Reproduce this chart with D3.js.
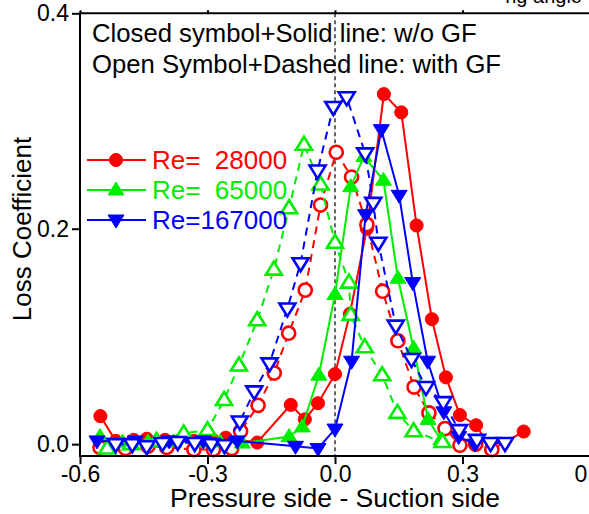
<!DOCTYPE html>
<html>
<head>
<meta charset="utf-8">
<script src="https://cdn.jsdelivr.net/npm/d3@7"></script>
<style>
  body { margin: 0; background: #fff; }
  svg { display: block; }
  text { font-family: "Liberation Sans", Arial, sans-serif; }
</style>
</head>
<body>
<div id="chart"></div>
<script>
// Re = 28000
const re28SolidX = [-0.552, -0.516, -0.474, -0.443, -0.40, -0.332, -0.29, -0.257, -0.183, -0.104, -0.071, -0.04, 0.0, 0.035, 0.075, 0.115, 0.156, 0.192, 0.228, 0.261, 0.294, 0.332, 0.368, 0.444];
const re28SolidY = [0.026, 0.003, 0.004, 0.005, 0.004, 0.003, 0.005, 0.006, 0.0015, 0.0365, 0.023, 0.038, 0.065, 0.121, 0.2, 0.325, 0.308, 0.203, 0.116, 0.062, 0.027, 0.0176, -0.005, 0.0117];
const re28DashX = [-0.553, -0.493, -0.44, -0.396, -0.332, -0.286, -0.243, -0.222, -0.181, -0.143, -0.109, -0.07, -0.034, 0.003, 0.039, 0.075, 0.112, 0.148, 0.186, 0.221, 0.259, 0.294, 0.331, 0.369];
const re28DashY = [-0.003, -0.004, -0.002, -0.003, -0.005, -0.005, -0.004, 0.012, 0.036, 0.066, 0.103, 0.143, 0.222, 0.271, 0.248, 0.204, 0.142, 0.096, 0.053, 0.029, 0.0145, -0.001, 0.0, -0.005];

// Re = 65000
const re65SolidX = [-0.553, -0.5, -0.44, -0.38, -0.32, -0.27, -0.218, -0.108, -0.077, -0.038, 0.0, 0.037, 0.068, 0.114, 0.148, 0.185, 0.219, 0.249];
const re65SolidY = [0.007, 0.002, 0.002, 0.002, 0.002, 0.002, 0.001, 0.007, 0.016, 0.064, 0.139, 0.239, 0.267, 0.245, 0.154, 0.089, 0.023, 0.004];
const re65DashX = [-0.536, -0.48, -0.42, -0.356, -0.3, -0.261, -0.226, -0.183, -0.144, -0.108, -0.073, -0.034, 0.0, 0.033, 0.037, 0.07, 0.111, 0.147, 0.185, 0.253];
const re65DashY = [-0.004, 0.0, 0.003, 0.010, 0.013, 0.041, 0.073, 0.115, 0.162, 0.219, 0.278, 0.241, 0.187, 0.15, 0.12, 0.09, 0.064, 0.029, 0.012, 0.002];

// Re = 167000
const re167SolidX = [-0.56, -0.47, -0.39, -0.31, -0.23, -0.093, -0.04, 0.0, 0.039, 0.072, 0.109, 0.151, 0.183, 0.218, 0.256, 0.291, 0.329];
const re167SolidY = [0.003, 0.003, 0.003, 0.003, 0.003, -0.002, -0.004, 0.014, 0.077, 0.213, 0.292, 0.231, 0.150, 0.077, 0.030, 0.007, 0.0];
const re167DashX = [-0.516, -0.477, -0.443, -0.406, -0.37, -0.33, -0.291, -0.26, -0.224, -0.19, -0.154, -0.112, -0.081, -0.041, -0.004, 0.0275, 0.071, 0.09, 0.102, 0.143, 0.18, 0.214, 0.255, 0.292, 0.334, 0.366, 0.4];
const re167DashY = [0.0, 0.0, -0.002, 0.001, 0.002, 0.001, 0.0, -0.001, 0.021, 0.049, 0.075, 0.126, 0.168, 0.254, 0.313, 0.322, 0.27, 0.224, 0.187, 0.11, 0.079, 0.053, 0.039, 0.013, 0.004, 0.001, 0.001];

const legendLabels = ["Re=  28000", "Re=  65000", "Re=167000"];
const xTicks = [-0.6, -0.3, 0.0, 0.3, 0.6];
const yTicks = [0.0, 0.2, 0.4];
const noteLines = ["Closed symbol+Solid line: w/o GF", "Open Symbol+Dashed line: with GF"];

const width = 589, height = 514;

const svg = d3.select("#chart")
  .append("svg")
  .attr("width", width)
  .attr("height", height);

const x = d3.scaleLinear().domain([-0.6, 0.6]).range([80, 590]);
const y = d3.scaleLinear().domain([-0.011, 0.4]).range([456, 13.3]);

// marker shapes
function markerPath(shape) {
  if (shape === "circle") return d3.symbol(d3.symbolCircle, 135)();
  if (shape === "up") return "M0,-8L8,5L-8,5Z";
  return "M0,8L8,-5L-8,-5Z";
}

const series = [
  { xs: re28SolidX, ys: re28SolidY, color: "#ff0000", shape: "circle", open: false },
  { xs: re28DashX, ys: re28DashY, color: "#ff0000", shape: "circle", open: true },
  { xs: re65SolidX, ys: re65SolidY, color: "#00ee00", shape: "up", open: false },
  { xs: re65DashX, ys: re65DashY, color: "#00ee00", shape: "up", open: true },
  { xs: re167SolidX, ys: re167SolidY, color: "#0000ff", shape: "down", open: false },
  { xs: re167DashX, ys: re167DashY, color: "#0000ff", shape: "down", open: true }
];

// title, mostly cut off at the top edge
svg.append("text")
  .attr("x", 582)
  .attr("y", 3)
  .attr("text-anchor", "end")
  .attr("font-size", 20)
  .text("ng angle");

// zero line
svg.append("line")
  .attr("x1", x(0)).attr("x2", x(0))
  .attr("y1", y(0.4)).attr("y2", y(-0.011))
  .attr("stroke", "#000")
  .attr("stroke-width", 1.2)
  .attr("stroke-dasharray", "4,3");

const line = d3.line().x(d => x(d[0])).y(d => y(d[1]));

series.forEach(s => {
  const pts = s.xs.map((v, i) => [v, s.ys[i]]);
  const g = svg.append("g");

  g.append("path")
    .datum(pts)
    .attr("d", line)
    .attr("fill", "none")
    .attr("stroke", s.color)
    .attr("stroke-width", 2)
    .attr("stroke-dasharray", s.open ? "8,6" : null);

  g.selectAll("path.m")
    .data(pts)
    .enter()
    .append("path")
    .attr("class", "m")
    .attr("d", markerPath(s.shape))
    .attr("transform", d => `translate(${x(d[0])},${y(d[1])})`)
    .attr("fill", s.open ? "#fff" : s.color)
    .attr("stroke", s.color)
    .attr("stroke-width", s.open ? 2.6 : 1);
});

// frame: left, bottom, top
svg.append("line")
  .attr("x1", 80).attr("x2", 80)
  .attr("y1", 13.3).attr("y2", 456)
  .attr("stroke", "#000").attr("stroke-width", 2);
svg.append("line")
  .attr("x1", 79).attr("x2", 589)
  .attr("y1", 456).attr("y2", 456)
  .attr("stroke", "#000").attr("stroke-width", 2);
svg.append("line")
  .attr("x1", 79).attr("x2", 589)
  .attr("y1", 13.3).attr("y2", 13.3)
  .attr("stroke", "#000").attr("stroke-width", 2);

// axes
const xAxis = d3.axisBottom(x).tickValues(xTicks).tickSize(8).tickPadding(2)
  .tickFormat(d => d3.format(".1f")(d).replace("−", "-"));
const gx = svg.append("g")
  .attr("transform", "translate(0,456)")
  .call(xAxis);
gx.select(".domain").remove();
gx.selectAll("line").attr("stroke-width", 2);
gx.selectAll("text")
  .attr("font-size", 23)
  .attr("fill", "#000");

const xTop = d3.axisTop(x).tickValues(xTicks).tickSize(3).tickFormat("");
const gt = svg.append("g")
  .attr("transform", "translate(0,13.3)")
  .call(xTop);
gt.select(".domain").remove();
gt.selectAll("line").attr("stroke-width", 2);

const yAxis = d3.axisLeft(y).tickValues(yTicks).tickSize(8).tickFormat(d3.format(".1f"));
const gy = svg.append("g")
  .attr("transform", "translate(80,0)")
  .call(yAxis);
gy.select(".domain").remove();
gy.selectAll("line").attr("stroke-width", 2);
gy.selectAll("text")
  .attr("font-size", 23)
  .attr("fill", "#000")
  .attr("x", -11);

// axis titles
svg.append("text")
  .attr("x", 335)
  .attr("y", 507)
  .attr("text-anchor", "middle")
  .attr("font-size", 26.5)
  .text("Pressure side - Suction side");

svg.append("text")
  .attr("transform", "translate(31,229) rotate(-90)")
  .attr("text-anchor", "middle")
  .attr("font-size", 26)
  .text("Loss Coefficient");

// notes
noteLines.forEach((t, i) => {
  svg.append("text")
    .attr("x", 92)
    .attr("y", 42 + i * 31)
    .attr("font-size", 25.7)
    .text(t);
});

// legend
const legendY = [160, 190, 220];
const legendSeries = [series[0], series[2], series[4]];
legendSeries.forEach((s, i) => {
  const ly = legendY[i];
  svg.append("line")
    .attr("x1", 87).attr("x2", 146)
    .attr("y1", ly).attr("y2", ly)
    .attr("stroke", s.color).attr("stroke-width", 2);
  svg.append("path")
    .attr("d", markerPath(s.shape))
    .attr("transform", `translate(116,${ly})`)
    .attr("fill", s.color)
    .attr("stroke", s.color);
  svg.append("text")
    .attr("x", 152)
    .attr("y", ly + 9)
    .attr("font-size", 26)
    .attr("fill", s.color)
    .style("white-space", "pre")
    .text(legendLabels[i]);
});
</script>
</body>
</html>
